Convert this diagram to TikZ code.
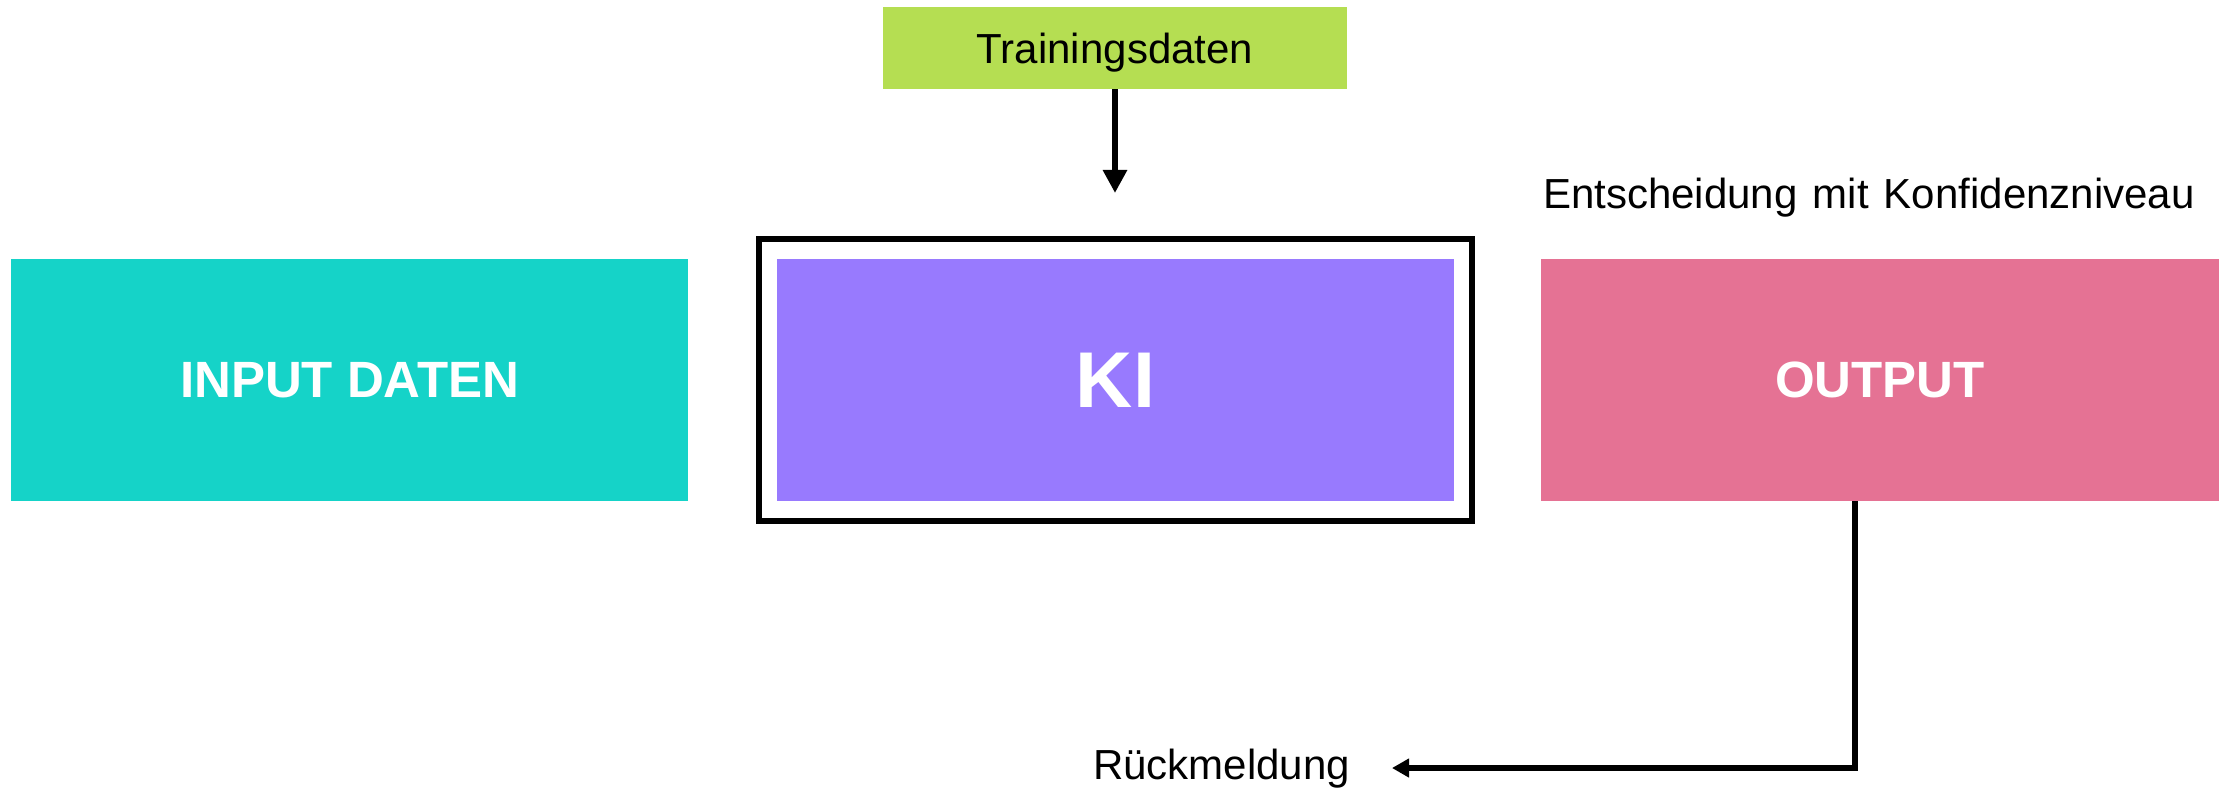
\documentclass[tikz,border=0pt]{standalone}
\usepackage{fontspec}
\setmainfont{Liberation Sans}
\usetikzlibrary{arrows.meta}
\definecolor{cinput}{HTML}{15D3C8}
\definecolor{cki}{HTML}{987AFE}
\definecolor{cout}{HTML}{E57294}
\definecolor{ctrain}{HTML}{B5DE52}
\tikzset{
  x=0.01cm, y=-0.01cm,
  colbox/.style={draw=none, inner sep=0pt, outer sep=0pt, text depth=0pt,
    minimum width=6.77cm, minimum height=2.42cm, text=white,
    font=\fontsize{14.5}{16}\selectfont\bfseries},
  plain/.style={inner sep=0pt, outer sep=0pt, text=black,
    font=\fontsize{11.95}{14}\selectfont},
  conn/.style={line width=0.062cm, draw=black,
    -{Triangle[length=0.23cm, width=0.23cm]}},
  fbconn/.style={line width=0.06cm, draw=black,
    -{Triangle[length=0.17cm, width=0.18cm]}},
}
\begin{document}
\begin{tikzpicture}
\useasboundingbox (0,0) rectangle (2232,787);
% Training data box
\node[plain, fill=ctrain, text depth=0pt, minimum width=4.64cm, minimum height=0.82cm] (train) at (1115,48) {Trainingsdaten};
% Input
\node[colbox, fill=cinput] (input) at (349.5,380) {INPUT DATEN};
% KI frame and box
\node[draw=black, line width=0.06cm, fill=none, inner sep=0pt, outer sep=0pt,
      minimum width=7.13cm, minimum height=2.82cm] (kiframe) at (1115.5,380) {};
\node[colbox, fill=cki, font=\fontsize{22.5}{26}\selectfont\bfseries] (ki) at (1115.5,380) {KI};
% Output
\node[colbox, fill=cout] (output) at (1880,380) {OUTPUT};
% Labels
\node[plain, anchor=base west] (decision) at (1543,208) {Entscheidung\hspace{0.36em}mit\hspace{0.36em}Konfidenzniveau};
\node[plain, anchor=base west] (rueck) at (1093,779) {Rückmeldung};
% Connectors
\coordinate (kitop) at (1115,193);
\draw[conn] (train.south) -- (kitop);
\coordinate (fbend) at (1392,768);
\draw[fbconn] ([xshift=-0.25cm]output.south) |- (fbend);
\end{tikzpicture}
\end{document}
